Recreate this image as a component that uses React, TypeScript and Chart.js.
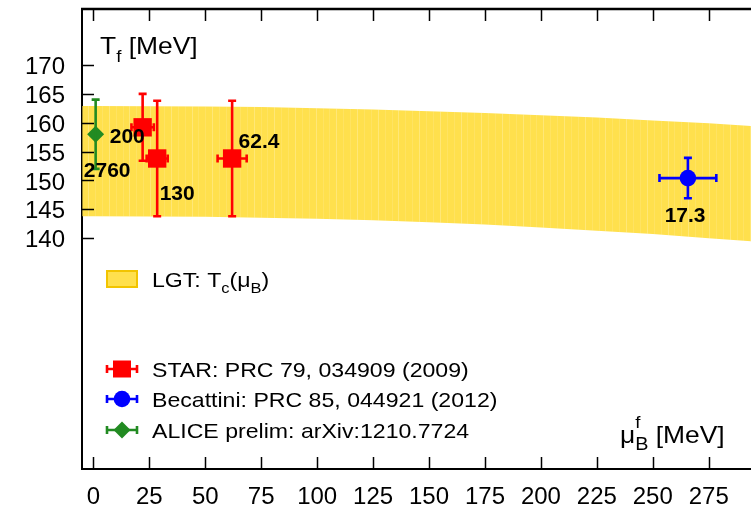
import React, { useEffect, useRef } from 'react';
import { Chart, registerables } from 'chart.js';

Chart.register(...registerables);

// ---------- data ----------
const xTicks = [0, 25, 50, 75, 100, 125, 150, 175, 200, 225, 250, 275];
const yTicks = [140, 145, 150, 155, 160, 165, 170];

// Lattice band T_c(mu_B): upper and lower edges
const bandMu = [-5, 0, 25, 50, 75, 100, 125, 150, 175, 200, 225, 250, 275, 300];
const bandUpper = [162.9, 162.9, 162.85, 162.8, 162.7, 162.5, 162.3, 162.0, 161.7, 161.3, 160.9, 160.4, 159.9, 159.3];
const bandLower = [143.8, 143.8, 143.75, 143.7, 143.55, 143.35, 143.1, 142.75, 142.35, 141.85, 141.3, 140.7, 140.0, 139.3];

// STAR: PRC 79, 034909 (2009)
const starMu = [22, 28.5, 62];
const starT = [159.2, 153.8, 153.8];
const starTErr = [5.8, 10, 10];
const starMuErr = [5, 4.7, 6.5];

// Becattini: PRC 85, 044921 (2012)
const becMu = [265.7];
const becT = [150.4];
const becTErr = [3.5];
const becMuErr = [12.7];

// ALICE prelim: arXiv:1210.7724
const aliceMu = [1];
const aliceT = [158];
const aliceTErr = [6];
const aliceMuErr = [0];

// energy annotations (sqrt(s) in GeV), anchored in data space (left edge, vertical centre)
const noteText = ['200', '2760', '130', '62.4', '17.3'];
const noteMu = [7.3, -4.3, 29.6, 64.9, 255.3];
const noteT = [157.7, 151.9, 147.9, 156.9, 144.1];

const legendLabels = [
  'STAR: PRC 79, 034909 (2009)',
  'Becattini: PRC 85, 044921 (2012)',
  'ALICE prelim: arXiv:1210.7724',
];

// ---------- styles ----------
const FONT = '"Liberation Sans", Arial, Helvetica, sans-serif';
const YELLOW = 'rgb(255, 224, 77)';
const YELLOW_EDGE = 'rgb(242, 196, 0)';
const RED = '#ff0000';
const BLUE = '#0000ff';
const GREEN = '#228b22';
const SX = 1.1;
const CAP = 4;

type Part = { t: string; size: number; dy?: number; bold?: boolean; noAdvance?: boolean };

function drawRich(ctx: CanvasRenderingContext2D, x: number, y: number, parts: Part[], sx = SX) {
  ctx.save();
  ctx.translate(x, y);
  ctx.scale(sx, 1);
  ctx.textBaseline = 'alphabetic';
  ctx.textAlign = 'left';
  let cx = 0;
  for (const p of parts) {
    ctx.font = `${p.bold ? 'bold ' : ''}${p.size}px ${FONT}`;
    ctx.fillText(p.t, cx, p.dy || 0);
    if (!p.noAdvance) cx += ctx.measureText(p.t).width;
  }
  ctx.restore();
}

function drawMarker(ctx: CanvasRenderingContext2D, style: string, x: number, y: number, color: string) {
  ctx.save();
  ctx.fillStyle = color;
  ctx.beginPath();
  if (style === 'rect') {
    ctx.rect(x - 9, y - 8.5, 18, 17);
  } else if (style === 'circle') {
    ctx.arc(x, y, 8.3, 0, Math.PI * 2);
  } else {
    ctx.moveTo(x - 8.5, y);
    ctx.lineTo(x, y - 8.5);
    ctx.lineTo(x + 8.5, y);
    ctx.lineTo(x, y + 8.5);
    ctx.closePath();
  }
  ctx.fill();
  ctx.restore();
}

const overlayPlugin = {
  id: 'overlay',
  afterDatasetDraw(chart: any, args: any) {
    // faint strip seams across the lattice band, as in the reference rendering
    if (args.index !== 1) return;
    const { ctx, chartArea: ca, scales } = chart;
    const xs = scales.x;
    const ys = scales.y;
    ctx.save();
    ctx.beginPath();
    ctx.rect(ca.left, ca.top, ca.right - ca.left, ca.bottom - ca.top);
    ctx.clip();
    ctx.beginPath();
    bandMu.forEach((m, i) => {
      const px = xs.getPixelForValue(m);
      const py = ys.getPixelForValue(bandUpper[i]);
      if (i === 0) ctx.moveTo(px, py);
      else ctx.lineTo(px, py);
    });
    for (let i = bandMu.length - 1; i >= 0; i--) {
      ctx.lineTo(xs.getPixelForValue(bandMu[i]), ys.getPixelForValue(bandLower[i]));
    }
    ctx.closePath();
    ctx.clip();
    ctx.lineWidth = 1;
    let k = 0;
    for (let px = ca.left + 6; px < ca.right; px += 6.9) {
      ctx.strokeStyle = k % 3 === 0 ? 'rgba(255,255,255,0.24)' : 'rgba(255,255,255,0.12)';
      ctx.beginPath();
      ctx.moveTo(Math.round(px) + 0.5, ca.top);
      ctx.lineTo(Math.round(px) + 0.5, ca.bottom);
      ctx.stroke();
      k++;
    }
    ctx.restore();
  },
  afterDatasetsDraw(chart: any) {
    const { ctx, chartArea: ca, scales } = chart;
    const xs = scales.x;
    const ys = scales.y;
    ctx.save();
    ctx.beginPath();
    ctx.rect(ca.left, ca.top, ca.right - ca.left, ca.bottom - ca.top);
    ctx.clip();
    const errs = (mu: number[], t: number[], te: number[], me: number[], color: string) => {
      ctx.strokeStyle = color;
      ctx.lineWidth = 2.6;
      for (let i = 0; i < mu.length; i++) {
        const px = xs.getPixelForValue(mu[i]);
        const py = ys.getPixelForValue(t[i]);
        const y1 = ys.getPixelForValue(t[i] + te[i]);
        const y2 = ys.getPixelForValue(t[i] - te[i]);
        ctx.beginPath();
        ctx.moveTo(px, y1);
        ctx.lineTo(px, y2);
        ctx.moveTo(px - CAP, y1);
        ctx.lineTo(px + CAP, y1);
        ctx.moveTo(px - CAP, y2);
        ctx.lineTo(px + CAP, y2);
        if (me[i] > 0) {
          const x1 = xs.getPixelForValue(mu[i] - me[i]);
          const x2 = xs.getPixelForValue(mu[i] + me[i]);
          ctx.moveTo(x1, py);
          ctx.lineTo(x2, py);
          ctx.moveTo(x1, py - CAP);
          ctx.lineTo(x1, py + CAP);
          ctx.moveTo(x2, py - CAP);
          ctx.lineTo(x2, py + CAP);
        }
        ctx.stroke();
      }
    };
    errs(aliceMu, aliceT, aliceTErr, aliceMuErr, GREEN);
    errs(starMu, starT, starTErr, starMuErr, RED);
    errs(becMu, becT, becTErr, becMuErr, BLUE);
    ctx.restore();

    // energy annotations
    ctx.save();
    ctx.fillStyle = '#000';
    for (let i = 0; i < noteText.length; i++) {
      const px = xs.getPixelForValue(noteMu[i]);
      const py = ys.getPixelForValue(noteT[i]);
      drawRich(ctx, px, py + 7.5, [{ t: noteText[i], size: 21, bold: true }], 1.0);
    }
    ctx.restore();
  },
  afterDraw(chart: any) {
    const { ctx, chartArea: ca, scales } = chart;
    const xs = scales.x;
    const ys = scales.y;
    ctx.save();
    ctx.strokeStyle = '#000';
    // top frame
    ctx.lineWidth = 2.4;
    ctx.beginPath();
    ctx.moveTo(ca.left - 1, ca.top);
    ctx.lineTo(ca.right, ca.top);
    ctx.stroke();
    // inward tick marks
    ctx.lineWidth = 1.5;
    ctx.beginPath();
    for (const v of xTicks) {
      const px = Math.round(xs.getPixelForValue(v)) + 0.5;
      ctx.moveTo(px, ca.bottom);
      ctx.lineTo(px, ca.bottom - 12);
      ctx.moveTo(px, ca.top);
      ctx.lineTo(px, ca.top + 12);
    }
    for (const v of yTicks) {
      const py = Math.round(ys.getPixelForValue(v)) + 0.5;
      ctx.moveTo(ca.left, py);
      ctx.lineTo(ca.left + 12, py);
    }
    ctx.stroke();

    ctx.fillStyle = '#000';
    // axis titles
    drawRich(ctx, ca.left + 18, ca.top + 45, [
      { t: 'T', size: 24 },
      { t: 'f', size: 17, dy: 8 },
      { t: ' [MeV]', size: 24 },
    ]);
    drawRich(ctx, ca.left + 538, ca.top + 434, [
      { t: '\u03bc', size: 24 },
      { t: 'f', size: 17, dy: -15, noAdvance: true },
      { t: 'B', size: 18, dy: 7 },
      { t: ' [MeV]', size: 24 },
    ]);

    // legend
    const lx = ca.left + 25;
    ctx.fillStyle = YELLOW;
    ctx.fillRect(lx, ca.top + 262, 30, 16);
    ctx.strokeStyle = YELLOW_EDGE;
    ctx.lineWidth = 2;
    ctx.strokeRect(lx, ca.top + 262, 30, 16);
    ctx.fillStyle = '#000';
    drawRich(ctx, lx + 45, ca.top + 278, [
      { t: 'LGT: T', size: 21 },
      { t: 'c', size: 15, dy: 6 },
      { t: '(\u03bc', size: 21 },
      { t: 'B', size: 15, dy: 6 },
      { t: ')', size: 21 },
    ]);
    const rows = [
      { y: ca.top + 360, color: RED, style: 'rect' },
      { y: ca.top + 390, color: BLUE, style: 'circle' },
      { y: ca.top + 421, color: GREEN, style: 'rectRot' },
    ];
    rows.forEach((r, i) => {
      ctx.strokeStyle = r.color;
      ctx.lineWidth = 2.6;
      ctx.beginPath();
      ctx.moveTo(lx, r.y);
      ctx.lineTo(lx + 30, r.y);
      ctx.moveTo(lx, r.y - CAP);
      ctx.lineTo(lx, r.y + CAP);
      ctx.moveTo(lx + 30, r.y - CAP);
      ctx.lineTo(lx + 30, r.y + CAP);
      ctx.stroke();
      drawMarker(ctx, r.style, lx + 15, r.y, r.color);
      ctx.fillStyle = '#000';
      drawRich(ctx, lx + 45, r.y + 7.5, [{ t: legendLabels[i], size: 21 }]);
    });
    ctx.restore();
  },
};

export default function App() {
  const canvasRef = useRef<HTMLCanvasElement | null>(null);

  useEffect(() => {
    document.body.style.margin = '0';
    const canvas = canvasRef.current;
    if (!canvas) return;
    const chart = new Chart(canvas, {
      type: 'scatter',
      data: {
        datasets: [
          {
            label: 'band lower',
            type: 'line',
            data: bandMu.map((m, i) => ({ x: m, y: bandLower[i] })),
            borderWidth: 0,
            pointRadius: 0,
            fill: false,
            order: 10,
          } as any,
          {
            label: 'LGT: Tc(muB)',
            type: 'line',
            data: bandMu.map((m, i) => ({ x: m, y: bandUpper[i] })),
            borderWidth: 0,
            pointRadius: 0,
            backgroundColor: YELLOW,
            fill: '-1',
            order: 9,
          } as any,
          {
            label: legendLabels[0],
            data: starMu.map((m, i) => ({ x: m, y: starT[i] })),
            pointStyle: 'rect',
            pointRadius: 13,
            backgroundColor: RED,
            borderColor: RED,
            borderWidth: 0,
            order: 1,
          },
          {
            label: legendLabels[1],
            data: becMu.map((m, i) => ({ x: m, y: becT[i] })),
            pointStyle: 'circle',
            pointRadius: 8.3,
            backgroundColor: BLUE,
            borderColor: BLUE,
            borderWidth: 0,
            order: 2,
          },
          {
            label: legendLabels[2],
            data: aliceMu.map((m, i) => ({ x: m, y: aliceT[i] })),
            pointStyle: 'rectRot',
            pointRadius: 8.5,
            backgroundColor: GREEN,
            borderColor: GREEN,
            borderWidth: 0,
            order: 3,
          },
        ],
      },
      options: {
        responsive: false,
        animation: false,
        events: [],
        layout: { autoPadding: false, padding: { top: 9, right: 0, left: 0, bottom: 0 } },
        plugins: { legend: { display: false }, tooltip: { enabled: false } },
        scales: {
          x: {
            type: 'linear',
            min: -5.1,
            max: 293.9,
            afterBuildTicks: (s: any) => {
              s.ticks = xTicks.map((v) => ({ value: v }));
            },
            afterFit: (s: any) => {
              s.height = 41;
              s.paddingLeft = 0;
              s.paddingRight = 0;
            },
            grid: { display: false, drawTicks: false },
            border: { display: true, color: '#000', width: 2 },
            ticks: {
              color: '#000',
              font: { family: FONT, size: 24 },
              padding: 14,
              autoSkip: false,
              maxRotation: 0,
            },
          },
          y: {
            type: 'linear',
            min: 100,
            max: 179.7,
            afterBuildTicks: (s: any) => {
              s.ticks = yTicks.map((v) => ({ value: v }));
            },
            afterFit: (s: any) => {
              s.width = 82;
              s.paddingTop = 0;
              s.paddingBottom = 0;
            },
            grid: { display: false, drawTicks: false },
            border: { display: true, color: '#000', width: 2 },
            ticks: {
              color: '#000',
              font: { family: FONT, size: 24 },
              padding: 17,
              labelOffset: 2.5,
            },
          },
        },
      },
      plugins: [overlayPlugin],
    } as any);
    return () => chart.destroy();
  }, []);

  return (
    <div style={{ width: 751, height: 510 }}>
      <canvas ref={canvasRef} width={751} height={510} style={{ display: 'block' }} />
    </div>
  );
}
